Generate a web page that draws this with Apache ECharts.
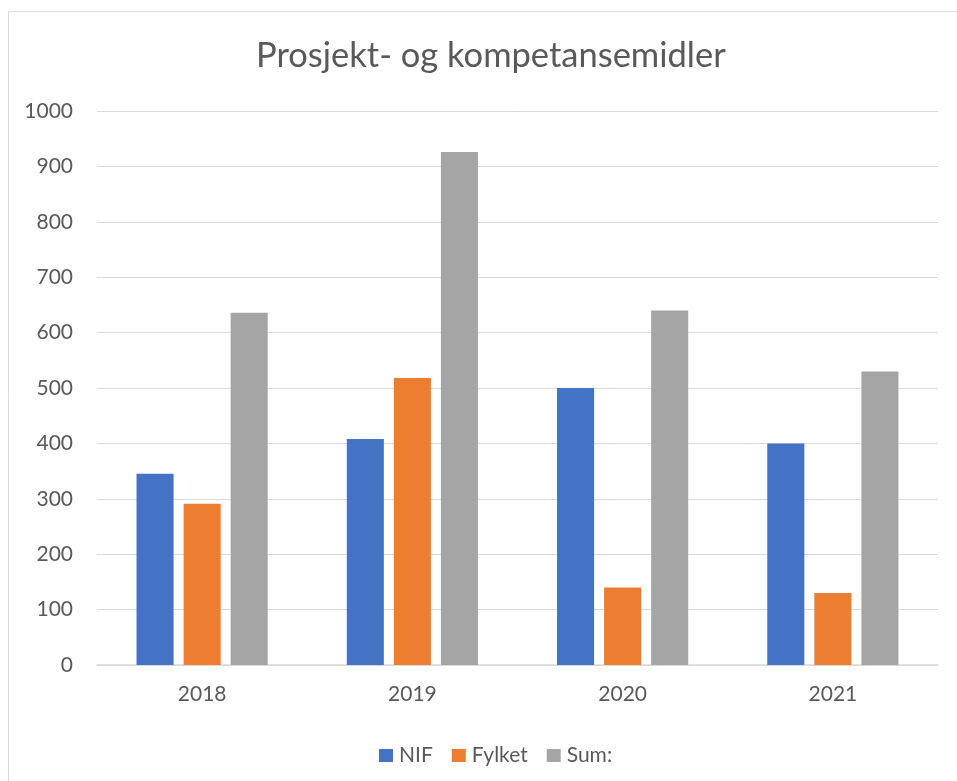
<!DOCTYPE html>
<html><head><meta charset="utf-8">
<script src="https://cdn.jsdelivr.net/npm/echarts@6/dist/echarts.min.js"></script>
<style>html,body{margin:0;padding:0;background:#fff}#c{width:957px;height:781px}</style>
</head><body><div id="c"></div>
<script>
const categories = ['2018', '2019', '2020', '2021'];
const nif = [345, 408, 500, 400];
const fylket = [291, 518, 140, 130];
const sum = [636, 926, 640, 530];
const yTicks = [0, 100, 200, 300, 400, 500, 600, 700, 800, 900, 1000];

const chart = echarts.init(document.getElementById('c'));
const font = 'Lato, "Open Sans", sans-serif';
chart.setOption({
  animation: false,
  backgroundColor: '#fff',
  graphic: [{ type: 'rect', shape: { x: 8.5, y: 11.5, width: 1000, height: 1000 },
    style: { fill: 'none', stroke: '#d9d9d9', lineWidth: 1 }, silent: true }],
  title: { text: 'Prosjekt- og kompetansemidler', left: 251, top: 33,
    textStyle: { color: '#595959', fontSize: 34.5, fontWeight: 'normal', fontFamily: font } },
  legend: { top: 740, left: 374, itemWidth: 14, itemHeight: 13, itemGap: 19, icon: 'rect',
    textStyle: { color: '#595959', fontSize: 21, fontFamily: font, padding: [0, 0, 0, 1] } },
  grid: { left: 97, right: 19, top: 111, bottom: 116 },
  xAxis: { type: 'category', data: categories,
    axisLine: { lineStyle: { color: '#d9d9d9', width: 1.5 } }, axisTick: { show: false },
    axisLabel: { color: '#595959', fontSize: 21, margin: 19, fontFamily: font } },
  yAxis: { type: 'value', min: 0, max: 1000, interval: 100,
    axisLine: { show: false }, axisTick: { show: false },
    splitLine: { lineStyle: { color: '#d9d9d9', width: 1 } },
    axisLabel: { color: '#595959', fontSize: 21, margin: 24, fontFamily: font,
      formatter: v => yTicks.includes(v) ? String(v) : '' } },
  series: [
    { name: 'NIF', type: 'bar', data: nif, itemStyle: { color: '#4472C4' }, barGap: '27%', barCategoryGap: '37.6%' },
    { name: 'Fylket', type: 'bar', data: fylket, itemStyle: { color: '#ED7D31' } },
    { name: 'Sum:', type: 'bar', data: sum, itemStyle: { color: '#A5A5A5' } }
  ]
});
</script></body></html>
